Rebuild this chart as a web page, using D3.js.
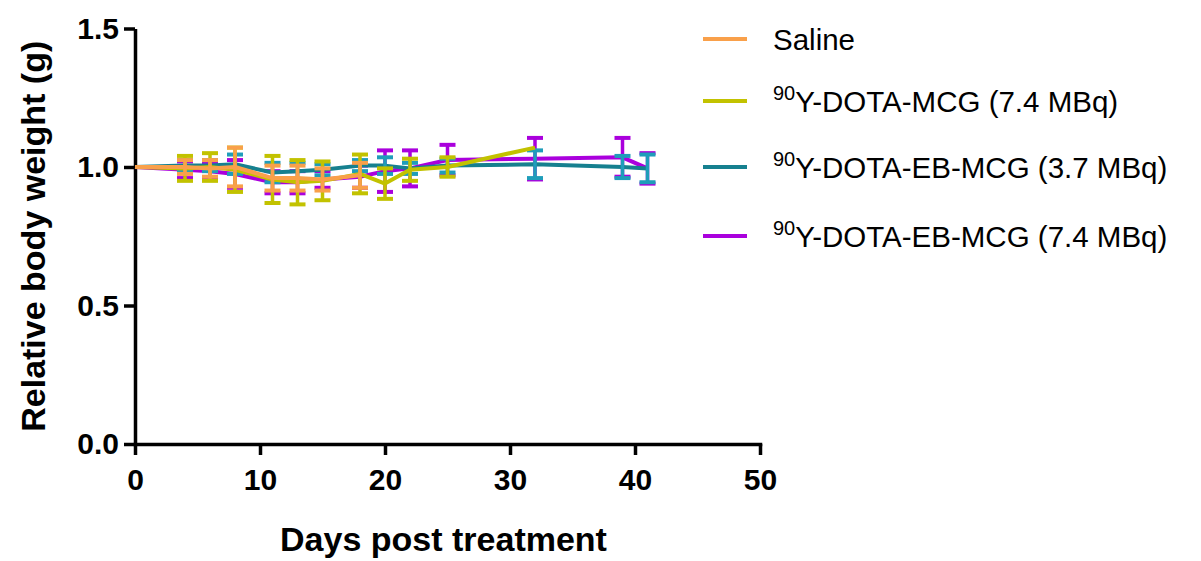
<!DOCTYPE html>
<html>
<head>
<meta charset="utf-8">
<script src="https://cdn.jsdelivr.net/npm/d3@7"></script>
<style>
  body { margin: 0; background: #fff; }
  text { font-family: "Liberation Sans", Arial, sans-serif; }
</style>
</head>
<body>
<div id="chart"></div>
<script>
// data (relative body weight, mean and SD)
var salineDays = [0, 4, 6, 8, 11, 13, 15, 18];
var salineMean = [1.0, 1.0, 0.995, 1.0, 0.96, 0.96, 0.955, 0.97];
var salineSD   = [0, 0.025, 0.03, 0.07, 0.045, 0.045, 0.04, 0.045];

var mcgDays = [0, 4, 6, 8, 11, 13, 15, 18, 20, 22, 25, 32];
var mcgMean = [1.0, 0.995, 1.0, 0.99, 0.955, 0.945, 0.95, 0.975, 0.94, 0.99, 1.0, 1.07];
var mcgSD   = [0, 0.045, 0.05, 0.08, 0.085, 0.08, 0.07, 0.07, 0.055, 0.04, 0.035, 0];

var ebLowDays = [0, 4, 6, 8, 11, 13, 15, 18, 20, 22, 25, 32, 39, 41];
var ebLowMean = [1.0, 1.005, 1.005, 1.01, 0.98, 0.985, 0.99, 1.005, 1.005, 0.995, 1.005, 1.01, 1.0, 0.995];
var ebLowSD   = [0, 0.02, 0.02, 0.035, 0.035, 0.03, 0.02, 0.02, 0.03, 0.02, 0.025, 0.05, 0.04, 0.05];

var ebHighDays = [0, 4, 6, 8, 11, 13, 15, 18, 20, 22, 25, 32, 39, 41];
var ebHighMean = [1.0, 0.99, 0.985, 0.975, 0.945, 0.945, 0.955, 0.965, 0.985, 0.995, 1.025, 1.03, 1.035, 0.995];
var ebHighSD   = [0, 0.03, 0.03, 0.05, 0.04, 0.04, 0.03, 0.04, 0.075, 0.065, 0.055, 0.075, 0.07, 0.055];

var xTicks = [0, 10, 20, 30, 40, 50];
var yTicks = [0, 0.5, 1.0, 1.5];

var series = [
  { sup: "", name: "Saline", days: salineDays, mean: salineMean, sd: salineSD, line: "#F9A04A", bar: "#F9A04A" },
  { sup: "90", name: "Y-DOTA-MCG (7.4 MBq)", days: mcgDays, mean: mcgMean, sd: mcgSD, line: "#C2C200", bar: "#C2C200" },
  { sup: "90", name: "Y-DOTA-EB-MCG (3.7 MBq)", days: ebLowDays, mean: ebLowMean, sd: ebLowSD, line: "#16808F", bar: "#1F9DBA" },
  { sup: "90", name: "Y-DOTA-EB-MCG (7.4 MBq)", days: ebHighDays, mean: ebHighMean, sd: ebHighSD, line: "#AA00DD", bar: "#AA00DD" }
];

var W = 1201, H = 561;
var margin = { top: 28.5, right: 441, bottom: 117, left: 135 },
  width = W - margin.left - margin.right,
  height = H - margin.top - margin.bottom;

var svg = d3.select("#chart")
  .append("svg")
  .attr("width", W)
  .attr("height", H);

var chart = svg.append("g")
  .attr("transform", "translate(" + margin.left + "," + margin.top + ")");

var x = d3.scaleLinear().domain([0, 50]).range([0, width]);
var y = d3.scaleLinear().domain([0, 1.5]).range([height, 0]);

// X axis
var xAxis = chart.append("g")
  .attr("transform", "translate(0," + height + ")")
  .call(d3.axisBottom(x).tickValues(xTicks).tickSize(11).tickPadding(14).tickSizeOuter(0));
// Y axis
var yAxis = chart.append("g")
  .call(d3.axisLeft(y).tickValues(yTicks).tickFormat(d3.format(".1f")).tickSize(11).tickPadding(5).tickSizeOuter(0));

[xAxis, yAxis].forEach(function (a) {
  a.selectAll("path, line").attr("stroke", "#000").attr("stroke-width", 3.5);
  a.selectAll("text")
    .attr("fill", "#000")
    .style("font-size", "30px")
    .style("font-weight", "bold");
});
xAxis.select(".domain").attr("stroke-linecap", "square");

// draw back to front so Saline ends on top
series.slice().reverse().forEach(function (s) {
  var pts = s.days.map(function (d, i) { return { d: d, m: s.mean[i], sd: s.sd[i] }; });
  var g = chart.append("g");

  g.append("path")
    .datum(pts)
    .attr("fill", "none")
    .attr("stroke", s.line)
    .attr("stroke-width", 4)
    .attr("stroke-linejoin", "round")
    .attr("d", d3.line()
      .x(function (p) { return x(p.d); })
      .y(function (p) { return y(p.m); }));

  var eb = g.selectAll(".eb")
    .data(pts.filter(function (p) { return p.sd > 0; }))
    .enter().append("g");
  eb.append("line")
    .attr("x1", function (p) { return x(p.d); })
    .attr("x2", function (p) { return x(p.d); })
    .attr("y1", function (p) { return y(p.m + p.sd); })
    .attr("y2", function (p) { return y(p.m - p.sd); })
    .attr("stroke", s.bar).attr("stroke-width", 3.5);
  [1, -1].forEach(function (k) {
    eb.append("line")
      .attr("x1", function (p) { return x(p.d) - 8; })
      .attr("x2", function (p) { return x(p.d) + 8; })
      .attr("y1", function (p) { return y(p.m + k * p.sd); })
      .attr("y2", function (p) { return y(p.m + k * p.sd); })
      .attr("stroke", s.bar).attr("stroke-width", 4);
  });
});

// axis titles
svg.append("text")
  .attr("x", margin.left + width / 2 - 4)
  .attr("y", 551)
  .style("text-anchor", "middle")
  .style("font-size", "34px")
  .style("font-weight", "bold")
  .text("Days post treatment");

svg.append("text")
  .attr("transform", "translate(45," + (margin.top + height / 2) + ") rotate(-90)")
  .style("text-anchor", "middle")
  .style("font-size", "34px")
  .style("font-weight", "bold")
  .text("Relative body weight (g)");

// legend
var legendY = [39, 101, 167, 236];
var legend = svg.append("g");
series.forEach(function (s, i) {
  var row = legend.append("g").attr("transform", "translate(703," + legendY[i] + ")");
  row.append("line")
    .attr("x1", 0).attr("x2", 44)
    .attr("stroke", s.line).attr("stroke-width", 4);
  var t = row.append("text")
    .attr("x", 70)
    .attr("y", 11)
    .style("font-size", "29.5px");
  if (s.sup) {
    t.append("tspan").style("font-size", "20px").attr("dy", -12).text(s.sup);
    t.append("tspan").attr("dy", 12).text(s.name);
  } else {
    t.text(s.name);
  }
});
</script>
</body>
</html>
